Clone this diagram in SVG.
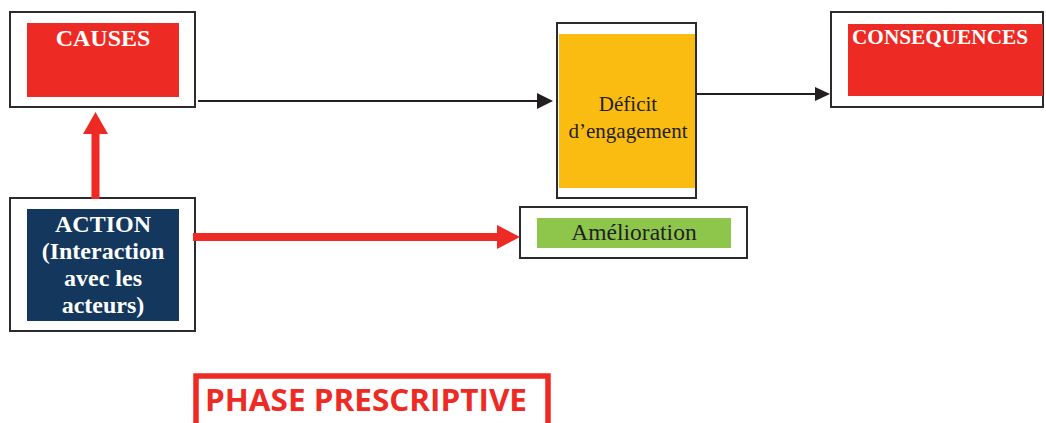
<svg xmlns="http://www.w3.org/2000/svg" width="1046" height="423" viewBox="0 0 1046 423">
<style>
.frame{fill:#fff;stroke:#2b2b2b;stroke-width:2}
.wb{font-family:"Liberation Serif","Times New Roman",serif;font-weight:bold;font-size:24px;fill:#fff;text-anchor:middle}
.reg{font-family:"Liberation Serif","Times New Roman",serif;font-size:21px;fill:#231f20;text-anchor:middle}
.blk{stroke:#231f20;stroke-width:2.2;fill:none}
.red{fill:#ee2a24}
</style>
<rect width="1046" height="423" fill="#fff"/>
<g id="causes">
<rect class="frame" x="10" y="12" width="185" height="95"/>
<rect class="red" x="27" y="23" width="152" height="74"/>
<text class="wb" x="103" y="46">CAUSES</text>
</g>
<g id="deficit">
<rect class="frame" x="557" y="23" width="139" height="175"/>
<rect x="559" y="34" width="136" height="154" fill="#fbbc12"/>
<text class="reg" x="628" y="111">Déficit</text>
<text class="reg" x="628" y="138">d’engagement</text>
</g>
<g id="consequences">
<rect class="frame" x="831" y="12" width="212" height="95"/>
<rect class="red" x="848" y="24" width="195" height="72"/>
<text class="wb" x="940" y="44" style="font-size:21px" textLength="176" lengthAdjust="spacingAndGlyphs">CONSEQUENCES</text>
</g>
<g id="action">
<rect class="frame" x="10" y="198" width="185" height="133"/>
<rect x="27" y="209" width="152" height="112" fill="#13375d"/>
<text class="wb" x="103" y="232">ACTION</text>
<text class="wb" x="103" y="259">(Interaction</text>
<text class="wb" x="103" y="286">avec les</text>
<text class="wb" x="103" y="313">acteurs)</text>
</g>
<g id="amelioration">
<rect class="frame" x="520" y="207" width="227" height="51"/>
<rect x="537" y="218" width="194" height="30" fill="#8dc64b"/>
<text class="reg" x="634" y="240" style="font-size:23.5px">Amélioration</text>
</g>
<g id="phase">
<path d="M196 423 V376 H548 V423" fill="none" stroke="#ee2a24" stroke-width="5.5"/>
<text x="205" y="411" font-family="'Open Sans','Noto Sans',sans-serif" font-weight="bold" font-size="30" fill="#ee2a24" textLength="322" lengthAdjust="spacingAndGlyphs">PHASE PRESCRIPTIVE</text>
</g>
<g id="connectors">
<line class="blk" x1="198" y1="101" x2="538" y2="101"/>
<polygon points="537,93 553,101 537,109" fill="#231f20"/>
<line class="blk" x1="696" y1="94" x2="816" y2="94"/>
<polygon points="815,87 830,94 815,101" fill="#231f20"/>
<rect class="red" x="91.5" y="132" width="8" height="67"/>
<polygon class="red" points="83,134 95.5,112 108,134"/>
<rect class="red" x="193" y="233" width="306" height="8"/>
<polygon class="red" points="497,225 520,237 497,249"/>
</g>
</svg>
